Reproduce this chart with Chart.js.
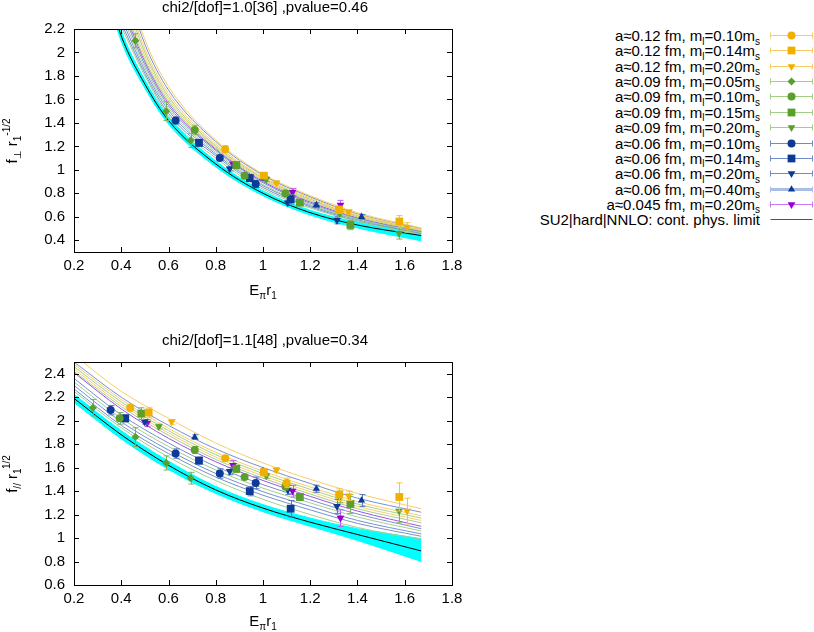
<!DOCTYPE html>
<html>
<head>
<meta charset="utf-8">
<script src="https://cdn.jsdelivr.net/npm/chart.js@4.4.0/dist/chart.umd.min.js"></script>
<style>
body { margin: 0; background: #fff; font-family: "Liberation Sans", Arial, sans-serif; }
#page { position: relative; width: 814px; height: 632px; overflow: hidden; }
canvas.plot { position: absolute; left: 0; }
.txt { position: absolute; font-size: 15px; line-height: 15px; color: #000; white-space: nowrap; }
.txt sub, .txt sup { font-size: 10px; vertical-align: baseline; position: relative; }
.txt sub { top: 0.35em; }
.txt sup { top: -0.75em; }
.center { transform: translateX(-50%); }
.ylab { transform: translate(-50%, -50%) rotate(-90deg); }
.lrow { position: absolute; right: 54px; text-align: right; }
.lsample { position: absolute; left: 769px; }
</style>
</head>
<body>
<div id="page">
  <canvas id="perpChart" class="plot" width="470" height="310" style="top:0;width:470px;height:310px"></canvas>
  <canvas id="parChart" class="plot" width="470" height="312" style="top:320px;width:470px;height:312px"></canvas>

  <div class="txt center" style="left:265px;top:-1px">chi2/[dof]=1.0[36] ,pvalue=0.46</div>
  <div class="txt center" style="left:265px;top:332px">chi2/[dof]=1.1[48] ,pvalue=0.34</div>
  <div class="txt center" style="left:263px;top:282px">E<sub>π</sub>r<sub>1</sub></div>
  <div class="txt center" style="left:263px;top:613px">E<sub>π</sub>r<sub>1</sub></div>
  <div class="txt ylab" style="left:12px;top:141px">f<sub>⊥</sub> r<sub>1</sub><sup>-1/2</sup></div>
  <div class="txt ylab" style="left:12px;top:474px">f<sub>//</sub> r<sub>1</sub><sup>1/2</sup></div>
  <div id="legend"></div>
</div>
<script>
// ---- series description (legend order) ----
const seriesA = ['0.12', '0.12', '0.12', '0.09', '0.09', '0.09', '0.09', '0.06', '0.06', '0.06', '0.06', '0.045'];
const seriesM = ['0.10', '0.14', '0.20', '0.05', '0.10', '0.15', '0.20', '0.10', '0.14', '0.20', '0.40', '0.20'];
const contLabel = 'SU2|hard|NNLO: cont. phys. limit';

// ---- tick labels ----
const xTickVals = [0.2, 0.4, 0.6, 0.8, 1.0, 1.2, 1.4, 1.6, 1.8];
const perpTickVals = [0.4, 0.6, 0.8, 1.0, 1.2, 1.4, 1.6, 1.8, 2.0, 2.2];
const parTickVals = [0.6, 0.8, 1.0, 1.2, 1.4, 1.6, 1.8, 2.0, 2.2, 2.4];

// ---- lattice data: E_pi r1 per series ----
const xE = [
  [0.438, 0.84, 1.10],
  [0.516, 1.004, 1.322, 1.577],
  [0.613, 1.057, 1.362, 1.61],
  [0.28, 0.46, 0.59, 0.694],
  [0.393, 0.711, 0.922, 1.095],
  [0.485, 0.887, 1.156, 1.37],
  [0.559, 1.014, 1.325, 1.576],
  [0.355, 0.63, 0.817, 0.969],
  [0.417, 0.729, 0.944, 1.117],
  [0.499, 0.859, 1.105, 1.313],
  [0.711, 1.0, 1.226, 1.417],
  [0.51, 0.873, 1.125, 1.328]
];
// f_perp r1^-1/2 (top panel)
const fPerp = [
  [null, 1.175, null],
  [null, 0.95, 0.66, 0.56],
  [null, 0.89, 0.64, 0.51],
  [null, 2.10, 1.50, 1.25],
  [null, 1.34, 0.95, 0.80],
  [null, 1.04, 0.72, 0.53],
  [null, 0.92, 0.63, 0.46],
  [null, 1.42, 1.10, 0.88],
  [null, 1.23, 0.93, 0.75],
  [null, 1.01, 0.72, 0.57],
  [null, 0.93, 0.70, 0.60],
  [null, 1.05, 0.81, 0.70]
];
const fPerpErr = [
  [0, 0.03, 0],
  [0, 0.02, 0.03, 0.05],
  [0, 0.015, 0.02, 0.04],
  [0, 0.06, 0.08, 0.06],
  [0, 0.04, 0.02, 0.02],
  [0, 0.03, 0.02, 0.04],
  [0, 0.02, 0.03, 0.05],
  [0, 0.03, 0.02, 0.03],
  [0, 0.03, 0.03, 0.04],
  [0, 0.02, 0.02, 0.03],
  [0, 0.02, 0.02, 0.02],
  [0, 0.02, 0.03, 0.04]
];
// f_par r1^1/2 (bottom panel)
const fPar = [
  [2.11, 1.68, 1.47],
  [2.07, 1.56, 1.37, 1.35],
  [1.99, 1.58, 1.36, 1.23],
  [2.11, 1.86, 1.64, 1.51],
  [2.02, 1.75, 1.52, 1.44],
  [2.06, 1.59, 1.35, 1.29],
  [1.95, 1.53, 1.35, 1.23],
  [2.09, 1.72, 1.55, 1.47],
  [2.02, 1.66, 1.40, 1.25],
  [1.99, 1.57, 1.41, 1.27],
  [1.86, 1.57, 1.42, 1.32],
  [1.98, 1.62, 1.40, 1.17]
];
const fParErr = [
  [0.03, 0.025, 0.04],
  [0.04, 0.03, 0.05, 0.12],
  [0.02, 0.02, 0.04, 0.11],
  [0.07, 0.08, 0.06, 0.05],
  [0.05, 0.03, 0.02, 0.03],
  [0.05, 0.03, 0.03, 0.08],
  [0.02, 0.02, 0.05, 0.10],
  [0.04, 0.04, 0.04, 0.05],
  [0.03, 0.03, 0.04, 0.07],
  [0.02, 0.03, 0.04, 0.06],
  [0.02, 0.02, 0.03, 0.05],
  [0.03, 0.04, 0.05, 0.07]
];

// ---- fit curves, read at fixed E_pi r1 ----
const perpFitX = [0.4, 0.5, 0.6, 0.8, 1.0, 1.2, 1.4, 1.67];
const perpFit = [
  [2.50, 1.97, 1.605, 1.195, 0.92, 0.74, 0.605, 0.485],
  [2.62, 2.03, 1.65, 1.22, 0.94, 0.76, 0.62, 0.495],
  [2.76, 2.11, 1.71, 1.255, 0.965, 0.78, 0.635, 0.505],
  [2.22, 1.80, 1.46, 1.10, 0.835, 0.675, 0.56, 0.45],
  [2.33, 1.87, 1.525, 1.15, 0.875, 0.705, 0.58, 0.465],
  [2.45, 1.94, 1.585, 1.185, 0.91, 0.735, 0.60, 0.48],
  [2.56, 2.00, 1.625, 1.205, 0.93, 0.75, 0.61, 0.49],
  [2.25, 1.82, 1.48, 1.12, 0.85, 0.685, 0.565, 0.455],
  [2.29, 1.845, 1.505, 1.135, 0.865, 0.695, 0.575, 0.46],
  [2.37, 1.895, 1.545, 1.165, 0.89, 0.715, 0.585, 0.47],
  [2.69, 2.07, 1.68, 1.24, 0.955, 0.77, 0.625, 0.50],
  [2.41, 1.92, 1.565, 1.175, 0.90, 0.725, 0.59, 0.475]
];
const parFitX = [0.2, 0.4, 0.6, 0.8, 1.0, 1.2, 1.4, 1.67];
const parFit = [
  [2.44, 2.14, 1.895, 1.69, 1.53, 1.395, 1.27, 1.15],
  [2.48, 2.18, 1.935, 1.73, 1.57, 1.435, 1.31, 1.19],
  [2.56, 2.25, 2.02, 1.81, 1.64, 1.50, 1.38, 1.25],
  [2.25, 1.94, 1.69, 1.49, 1.33, 1.20, 1.09, 0.99],
  [2.33, 2.02, 1.78, 1.58, 1.425, 1.30, 1.18, 1.06],
  [2.42, 2.12, 1.875, 1.67, 1.51, 1.375, 1.25, 1.13],
  [2.46, 2.16, 1.915, 1.71, 1.55, 1.415, 1.29, 1.17],
  [2.27, 1.96, 1.72, 1.52, 1.365, 1.24, 1.125, 1.015],
  [2.30, 1.99, 1.75, 1.55, 1.395, 1.27, 1.15, 1.035],
  [2.36, 2.05, 1.81, 1.61, 1.455, 1.325, 1.205, 1.08],
  [2.50, 2.20, 1.96, 1.76, 1.60, 1.465, 1.34, 1.22],
  [2.41, 2.10, 1.85, 1.65, 1.49, 1.355, 1.23, 1.10]
];

// ---- continuum physical limit + error band ----
const perpContX = [0.36, 0.4, 0.5, 0.6, 0.8, 1.0, 1.2, 1.4, 1.67];
const perpCont = [2.40, 2.14, 1.73, 1.42, 1.05, 0.80, 0.635, 0.53, 0.44];
const perpContLo = [2.35, 2.095, 1.695, 1.39, 1.025, 0.78, 0.615, 0.505, 0.395];
const perpContHi = [2.45, 2.185, 1.765, 1.45, 1.075, 0.82, 0.655, 0.555, 0.48];
const parContX = [0.2, 0.4, 0.6, 0.8, 1.0, 1.2, 1.4, 1.67];
const parCont = [2.19, 1.88, 1.62, 1.41, 1.255, 1.135, 1.03, 0.89];
const parContLo = [2.155, 1.845, 1.585, 1.38, 1.225, 1.10, 0.98, 0.80];
const parContHi = [2.225, 1.915, 1.655, 1.44, 1.285, 1.17, 1.08, 0.995];

// ---- styles ----
const ORANGE = '#f0b000', GREEN = '#5a9e2c', BLUE = '#0c3a96', PURPLE = '#9400d3';
const markerColor = [ORANGE, ORANGE, ORANGE, GREEN, GREEN, GREEN, GREEN, BLUE, BLUE, BLUE, BLUE, PURPLE];
const lineColor = ['#f7cd6a', '#f7cd6a', '#f7cd6a', '#a4cf88', '#a4cf88', '#a4cf88', '#a4cf88',
                   '#7590cf', '#7590cf', '#7590cf', '#7590cf', '#a050e2'];
const legendLineColor = ['#f7cd6a', '#f7cd6a', '#f7cd6a', '#a4cf88', '#a4cf88', '#a4cf88', '#a4cf88',
                         '#6f8bcc', '#6f8bcc', '#6f8bcc', '#aabde6', '#c77af2'];
const errColor = ['#f3c24a', '#f3c24a', '#f3c24a', '#7fb35a', '#7fb35a', '#7fb35a', '#7fb35a',
                  '#5577c0', '#5577c0', '#5577c0', '#5577c0', '#c060f0'];
const markerStyle = ['circle', 'rect', 'triangle', 'rectRot', 'circle', 'rect', 'triangle',
                     'circle', 'rect', 'triangle', 'triangle', 'triangle'];
const markerRot = [0, 0, 180, 0, 0, 0, 180, 0, 0, 180, 0, 180];
const markerSize = [4, 5.5, 4.5, 4, 4, 5.5, 4.5, 4, 5.5, 4.5, 4.2, 4.5];

Chart.defaults.font.family = '"Liberation Sans", Arial, sans-serif';
Chart.defaults.font.size = 15;
Chart.defaults.color = '#000';

const fmtTick = v => String(Math.round(v * 10) / 10);

const errorBars = {
  id: 'errorBars',
  beforeDatasetDraw(chart, args) {
    const ds = chart.data.datasets[args.index];
    if (!ds.errorColor) return;
    const { ctx, chartArea: a, scales: { x, y } } = chart;
    ctx.save();
    ctx.beginPath();
    ctx.rect(a.left, a.top, a.right - a.left, a.bottom - a.top);
    ctx.clip();
    ctx.strokeStyle = ds.errorColor;
    ctx.lineWidth = 1;
    ds.data.forEach(p => {
      if (!p.e) return;
      const px = Math.round(x.getPixelForValue(p.x)) + 0.5;
      const y1 = y.getPixelForValue(p.y - p.e);
      const y2 = y.getPixelForValue(p.y + p.e);
      ctx.beginPath();
      ctx.moveTo(px, y1); ctx.lineTo(px, y2);
      ctx.moveTo(px - 3, y1); ctx.lineTo(px + 3, y1);
      ctx.moveTo(px - 3, y2); ctx.lineTo(px + 3, y2);
      ctx.stroke();
    });
    ctx.restore();
  }
};

// gnuplot-like frame with inward ticks on all four sides
const frame = {
  id: 'frame',
  afterDraw(chart) {
    const { ctx, chartArea: a, scales: { x, y } } = chart;
    ctx.save();
    ctx.strokeStyle = '#000';
    ctx.lineWidth = 1;
    ctx.beginPath();
    x.ticks.forEach(t => {
      const px = Math.round(x.getPixelForValue(t.value)) + 0.5;
      ctx.moveTo(px, a.bottom); ctx.lineTo(px, a.bottom - 5);
      ctx.moveTo(px, a.top); ctx.lineTo(px, a.top + 5);
    });
    y.ticks.forEach(t => {
      const py = Math.round(y.getPixelForValue(t.value)) + 0.5;
      ctx.moveTo(a.left, py); ctx.lineTo(a.left + 5, py);
      ctx.moveTo(a.right, py); ctx.lineTo(a.right - 5, py);
    });
    ctx.stroke();
    ctx.strokeRect(a.left + 0.5, a.top + 0.5, a.right - a.left, a.bottom - a.top);
    ctx.restore();
  }
};

function toPoints(xs, ys) {
  return xs.map((x, k) => ({ x, y: ys[k] }));
}

function buildChart(id, cfg) {
  const datasets = [];
  // data points (drawn on top)
  seriesA.forEach((a, i) => {
    const pts = [];
    xE[i].forEach((x, j) => {
      const v = cfg.vals[i][j];
      if (v != null) pts.push({ x, y: v, e: cfg.errs[i][j] });
    });
    datasets.push({
      data: pts, showLine: false, order: 0,
      pointStyle: markerStyle[i], pointRotation: markerRot[i], pointRadius: markerSize[i],
      pointBackgroundColor: markerColor[i], pointBorderColor: markerColor[i], pointBorderWidth: 0,
      errorColor: errColor[i]
    });
  });
  // continuum line
  datasets.push({
    data: toPoints(cfg.contX, cfg.cont), showLine: true, order: 1,
    borderColor: '#000', borderWidth: 1, pointRadius: 0, cubicInterpolationMode: 'monotone'
  });
  // fit curves per ensemble
  seriesA.forEach((a, i) => {
    datasets.push({
      data: toPoints(cfg.fitX, cfg.fits[i]), showLine: true, order: 2,
      borderColor: lineColor[i], borderWidth: 1, pointRadius: 0, cubicInterpolationMode: 'monotone'
    });
  });
  // error band (lower then upper, filled between)
  datasets.push({
    data: toPoints(cfg.contX, cfg.lo), showLine: true, order: 3, fill: false,
    borderColor: '#00ffff', borderWidth: 1, pointRadius: 0, cubicInterpolationMode: 'monotone'
  });
  datasets.push({
    data: toPoints(cfg.contX, cfg.hi), showLine: true, order: 3, fill: '-1',
    backgroundColor: '#00ffff', borderColor: '#00ffff', borderWidth: 1, pointRadius: 0,
    cubicInterpolationMode: 'monotone'
  });

  return new Chart(document.getElementById(id), {
    type: 'scatter',
    data: { datasets },
    options: {
      responsive: false,
      animation: false,
      events: [],
      layout: { padding: { top: cfg.padTop, right: 18, left: 0, bottom: 0 } },
      plugins: { legend: { display: false }, tooltip: { enabled: false } },
      scales: {
        x: {
          type: 'linear', min: 0.2, max: 1.8,
          afterBuildTicks: s => { s.ticks = xTickVals.map(v => ({ value: v })); },
          afterFit: s => { s.height = cfg.xHeight; },
          grid: { display: false, drawTicks: false },
          border: { display: false },
          ticks: { padding: 5, callback: fmtTick, maxRotation: 0, autoSkip: false }
        },
        y: {
          type: 'linear', min: cfg.yMin, max: cfg.yMax,
          afterBuildTicks: s => { s.ticks = cfg.yTicks.map(v => ({ value: v })); },
          afterFit: s => { s.width = 74; },
          grid: { display: false, drawTicks: false },
          border: { display: false },
          ticks: { padding: 9, callback: fmtTick, autoSkip: false }
        }
      }
    },
    plugins: [errorBars, frame]
  });
}

buildChart('perpChart', {
  vals: fPerp, errs: fPerpErr, fitX: perpFitX, fits: perpFit,
  contX: perpContX, cont: perpCont, lo: perpContLo, hi: perpContHi,
  yMin: 0.3, yMax: 2.2, yTicks: perpTickVals, padTop: 29, xHeight: 58
});
buildChart('parChart', {
  vals: fPar, errs: fParErr, fitX: parFitX, fits: parFit,
  contX: parContX, cont: parCont, lo: parContLo, hi: parContHi,
  yMin: 0.6, yMax: 2.5, yTicks: parTickVals, padTop: 42, xHeight: 47
});

// ---- legend ----
const legend = document.getElementById('legend');
const rowY0 = 35, rowStep = 15.36;
function addRow(i, html, draw) {
  const yc = rowY0 + i * rowStep;
  const t = document.createElement('div');
  t.className = 'txt lrow';
  t.style.top = (yc - 7) + 'px';
  t.innerHTML = html;
  legend.appendChild(t);
  const c = document.createElement('canvas');
  c.className = 'lsample';
  c.width = 46; c.height = 12;
  c.style.top = (yc - 6) + 'px';
  legend.appendChild(c);
  draw(c.getContext('2d'));
}
seriesA.forEach((a, i) => {
  addRow(i, `a≈${a} fm, m<sub>l</sub>=${seriesM[i]}m<sub>s</sub>`, ctx => {
    ctx.strokeStyle = legendLineColor[i];
    ctx.lineWidth = i === 10 ? 3 : 1;
    ctx.beginPath();
    ctx.moveTo(1.5, 6.5); ctx.lineTo(43.5, 6.5);
    ctx.stroke();
    ctx.lineWidth = 1;
    ctx.beginPath();
    ctx.moveTo(1.5, 3.5); ctx.lineTo(1.5, 9.5);
    ctx.moveTo(43.5, 3.5); ctx.lineTo(43.5, 9.5);
    ctx.stroke();
    ctx.fillStyle = markerColor[i];
    Chart.helpers.drawPoint(ctx, {
      pointStyle: markerStyle[i], rotation: markerRot[i], radius: markerSize[i], borderWidth: 0
    }, 22.5, 6.5);
  });
});
addRow(seriesA.length, contLabel, ctx => {
  ctx.strokeStyle = '#555';
  ctx.lineWidth = 1;
  ctx.beginPath();
  ctx.moveTo(1.5, 6.5); ctx.lineTo(43.5, 6.5);
  ctx.stroke();
});
</script>
</body>
</html>
